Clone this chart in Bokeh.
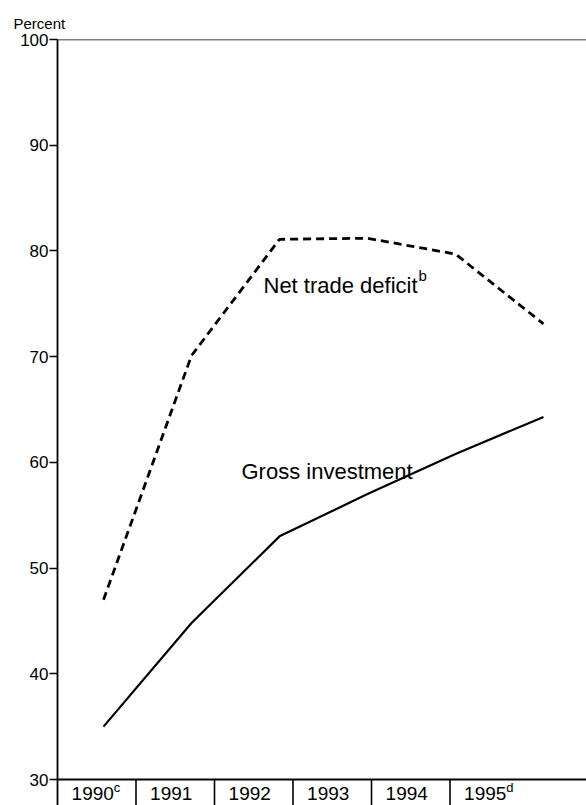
from bokeh.plotting import figure
from bokeh.models import Range1d, FixedTicker, Span, Label
from bokeh.core.properties import value
from bokeh.embed import file_html
from bokeh.resources import INLINE

# ---- data ----
years = [1990, 1991, 1992, 1993, 1994, 1995]
year_labels = ["1990", "1991", "1992", "1993", "1994", "1995"]
year_notes = ["c", "", "", "", "", "d"]
net_trade_deficit = [47.0, 70.1, 81.1, 81.2, 79.7, 73.1]
gross_investment = [35.0, 44.8, 53.0, 57.0, 60.8, 64.3]
y_ticks = [30, 40, 50, 60, 70, 80, 90, 100]

# ---- layout ----
W, H = 586, 805
BL, BT = 57, 39
FW, FH = W - BL, H - BT
Y_BOT_AXIS, Y_TOP = 30, 100
px_per_unit = 740 / (Y_TOP - Y_BOT_AXIS)
y_start = Y_BOT_AXIS - (FH - 740) / px_per_unit
px_per_year = 88.0
x_start = years[0] - 46 / px_per_year
x_end = x_start + FW / px_per_year
cell_w = 78.5

FONT = "Liberation Sans"

p = figure(width=W, height=H, output_backend="svg", toolbar_location=None,
           x_range=Range1d(x_start, x_end), y_range=Range1d(y_start, Y_TOP),
           x_axis_location=None, min_border_left=BL, min_border_right=0,
           min_border_top=BT, min_border_bottom=0, title="Percent")
p.extra_x_ranges = {"cells": Range1d(0, FW / cell_w)}
p.outline_line_color = None
p.grid.visible = False
p.background_fill_color = "white"
p.border_fill_color = "white"

p.title.align = "left"
p.title.offset = -44
p.title.standoff = 15
p.title.text_font = FONT
p.title.text_font_size = "15px"
p.title.text_font_style = "normal"
p.title.text_color = "black"

yax = p.yaxis[0]
yax.ticker = FixedTicker(ticks=y_ticks)
yax.minor_tick_line_color = None
yax.major_tick_in = 0
yax.major_tick_out = 8
yax.major_tick_line_width = 1.5
yax.axis_line_width = 1.8
yax.axis_line_color = "black"
yax.major_tick_line_color = "black"
yax.major_label_text_font = FONT
yax.major_label_text_font_size = "17px"
yax.major_label_text_color = "black"
yax.major_label_standoff = 1

# frame lines at top and at 30
p.add_layout(Span(location=Y_TOP, dimension="width", line_color="black", line_width=1.6))
p.add_layout(Span(location=Y_BOT_AXIS, dimension="width", line_color="black", line_width=2))

# category cell dividers
n = len(years)
p.segment(x0=list(range(1, n)), x1=list(range(1, n)),
          y0=[y_start] * (n - 1), y1=[Y_BOT_AXIS] * (n - 1),
          x_range_name="cells", line_color="black", line_width=1.6)

# category labels
label_y = Y_BOT_AXIS - 14 / px_per_unit
centers = [i + 0.5 for i in range(n)]
p.text(x=centers, y=[label_y] * n, text=year_labels, x_range_name="cells",
       text_font=value(FONT), text_font_size="19px", text_align="center",
       text_baseline="middle", text_color="black", x_offset=-4)
p.text(x=centers, y=[label_y] * n, text=year_notes, x_range_name="cells",
       text_font=value(FONT), text_font_size="13px", text_align="left",
       text_baseline="middle", text_color="black", x_offset=17, y_offset=-6)

# series
p.line(years, net_trade_deficit, line_color="black", line_width=2.8, line_dash="8 5")
p.line(years, gross_investment, line_color="black", line_width=2.2)

def px_x(px):
    return x_start + (px - 57) / px_per_year

def px_y(py):
    return Y_BOT_AXIS + (779 - py) / px_per_unit

p.add_layout(Label(x=px_x(263), y=px_y(285), text="Net trade deficit", text_font=FONT,
                   text_font_size="22px", text_color="black", text_baseline="alphabetic"))
p.add_layout(Label(x=px_x(418), y=px_y(275), text="b", text_font=FONT,
                   text_font_size="15px", text_color="black", text_baseline="alphabetic"))
p.add_layout(Label(x=px_x(241), y=px_y(471), text="Gross investment", text_font=FONT,
                   text_font_size="22px", text_color="black", text_baseline="alphabetic"))

open("out.html", "w").write(file_html(p, INLINE))
